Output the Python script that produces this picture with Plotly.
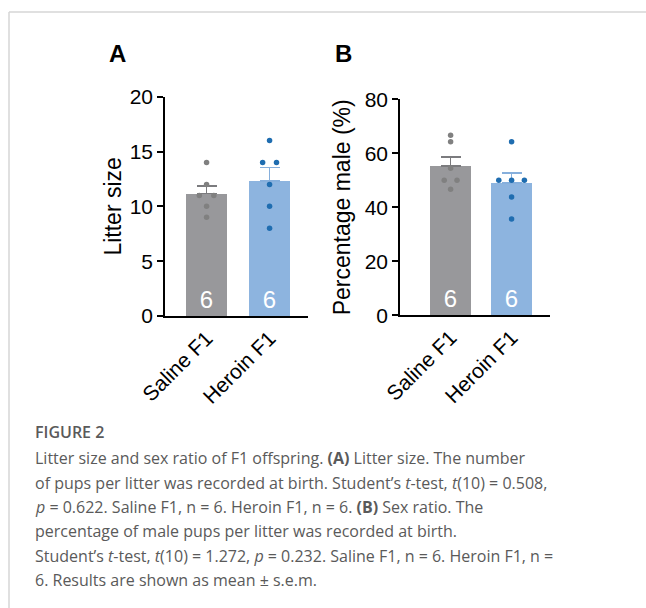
import plotly.graph_objects as go

# ---------------- data ----------------
groups = ["Saline F1", "Heroin F1"]
n_per_group = [6, 6]

litter_saline = [14, 12, 11, 11, 10, 9]
litter_heroin = [16, 14, 14, 12, 10, 8]

male_saline = [66.7, 64.3, 54.5, 50.0, 50.0, 46.7]
male_heroin = [64.3, 50.0, 50.0, 50.0, 43.8, 35.7]

litter_ticks = [0, 5, 10, 15, 20]
male_ticks = [0, 20, 40, 60, 80]

caption_lines = [
    "Litter size and sex ratio of F1 offspring. <b>(A)</b> Litter size. The number",
    "of pups per litter was recorded at birth. Student\u2019s <i>t</i>-test, <i>t</i>(10) = 0.508,",
    "<i>p</i> = 0.622. Saline F1, n = 6. Heroin F1, n = 6. <b>(B)</b> Sex ratio. The",
    "percentage of male pups per litter was recorded at birth.",
    "Student\u2019s <i>t</i>-test, <i>t</i>(10) = 1.272, <i>p</i> = 0.232. Saline F1, n = 6. Heroin F1, n =",
    "6. Results are shown as mean \u00b1 s.e.m.",
]

# ---------------- style ----------------
W, H = 646, 608
FONT = "Liberation Sans, Arial, Helvetica, sans-serif"
CAP_FONT = "Open Sans, Noto Sans, sans-serif"
BAR_COLORS = ["#98989b", "#8db4df"]
DOT_COLORS = ["#808080", "#1f6db0"]
ERR_COLORS = ["#7b7b7e", "#86afdc"]

# horizontal jitter for overlapping points (style only)
jit_litter = [[0, 0, -0.115, 0.115, 0, 0], [0, -0.11, 0.11, 0, 0, 0]]
jit_male = [[0, 0, 0, -0.105, 0.105, 0], [0, -0.21, 0, 0.21, 0, 0]]


def mean(v):
    return sum(v) / len(v)


def sem(v):
    m = mean(v)
    var = sum((x - m) ** 2 for x in v) / (len(v) - 1)
    return (var ** 0.5) / (len(v) ** 0.5)


fig = go.Figure()


def add_panel(series, jitters, xa, ya, bar_width):
    for i, vals in enumerate(series):
        fig.add_trace(go.Bar(
            x=[i], y=[mean(vals)], width=bar_width,
            marker=dict(color=BAR_COLORS[i], line=dict(width=0)),
            error_y=dict(type="data", symmetric=False, array=[sem(vals)], arrayminus=[0],
                         color=ERR_COLORS[i], thickness=1.6, width=10),
            text=[str(n_per_group[i])], textposition="inside", insidetextanchor="start",
            textfont=dict(color="white", size=24, family=FONT),
            xaxis=xa, yaxis=ya, showlegend=False, hoverinfo="skip",
        ))
    for i, vals in enumerate(series):
        fig.add_trace(go.Scatter(
            x=[i + j for j in jitters[i]], y=vals, mode="markers",
            marker=dict(color=DOT_COLORS[i], size=5.5),
            xaxis=xa, yaxis=ya, showlegend=False, hoverinfo="skip",
        ))


add_panel([litter_saline, litter_heroin], jit_litter, "x", "y", 0.65)
add_panel([male_saline, male_heroin], jit_male, "x2", "y2", 0.67)

axis_common = dict(showline=True, linecolor="black", linewidth=1.6, showgrid=False,
                   zeroline=False, automargin=False,
                   tickfont=dict(family=FONT, size=21, color="black"))

fig.update_layout(
    template="none",
    width=W, height=H, margin=dict(l=0, r=0, t=0, b=0, pad=0), autosize=False,
    paper_bgcolor="white", plot_bgcolor="white",
    font=dict(family=FONT, color="black"),
    bargap=0,
    xaxis=dict(domain=[165 / W, 308 / W], range=[-0.66, 1.61], anchor="y",
               tickmode="array", tickvals=[0, 1], ticktext=groups, tickangle=-45,
               ticks="", **axis_common),
    yaxis=dict(domain=[1 - 316 / H, 1 - 96.7 / H], range=[0, 20], anchor="x",
               tickmode="array", tickvals=litter_ticks, ticks="outside", ticklen=6,
               tickwidth=1.6, tickcolor="black",
               title=dict(text="Litter size", font=dict(family=FONT, size=23), standoff=2),
               **axis_common),
    xaxis2=dict(domain=[400 / W, 550 / W], range=[-0.83, 1.63], anchor="y2",
                tickmode="array", tickvals=[0, 1], ticktext=groups, tickangle=-45,
                ticks="", **axis_common),
    yaxis2=dict(domain=[1 - 315.3 / H, 1 - 99.3 / H], range=[0, 80], anchor="x2",
                tickmode="array", tickvals=male_ticks, ticks="outside", ticklen=6,
                tickwidth=1.6, tickcolor="black",
                title=dict(text="Percentage male (%)", font=dict(family=FONT, size=23), standoff=8),
                **axis_common),
)

annotations = [
    dict(text="<b>A</b>", x=117 / W, y=1 - 53 / H, xref="paper", yref="paper",
         xanchor="center", yanchor="middle",
         showarrow=False, font=dict(family=FONT, size=24, color="black")),
    dict(text="<b>B</b>", x=343 / W, y=1 - 53 / H, xref="paper", yref="paper",
         xanchor="center", yanchor="middle",
         showarrow=False, font=dict(family=FONT, size=24, color="black")),
    dict(text="FIGURE 2", x=33 / W, y=1 - 432 / H, xref="paper", yref="paper",
         xanchor="left", yanchor="middle", showarrow=False,
         font=dict(family=CAP_FONT, size=16, color="#5a5a5a", weight=600)),
]
line_y = [458, 482.5, 507, 531, 555.5, 580]
for txt, yy in zip(caption_lines, line_y):
    annotations.append(dict(
        text=txt, x=33 / W, y=1 - yy / H, xref="paper", yref="paper",
        xanchor="left", yanchor="middle", showarrow=False, align="left",
        font=dict(family=CAP_FONT, size=16, color="#5a5a5a")))
fig.update_layout(annotations=annotations)

fig.update_layout(shapes=[
    dict(type="line", xref="paper", yref="paper", x0=9 / W, x1=1, y0=1 - 12 / H, y1=1 - 12 / H,
         line=dict(color="#d6d6d6", width=1.5)),
    dict(type="line", xref="paper", yref="paper", x0=9 / W, x1=9 / W, y0=0, y1=1 - 12 / H,
         line=dict(color="#d6d6d6", width=1.5)),
])

fig.write_html(
    "out.html",
    config={"displayModeBar": False},
    post_script="document.body.style.margin='0';document.body.style.overflow='hidden';",
)
